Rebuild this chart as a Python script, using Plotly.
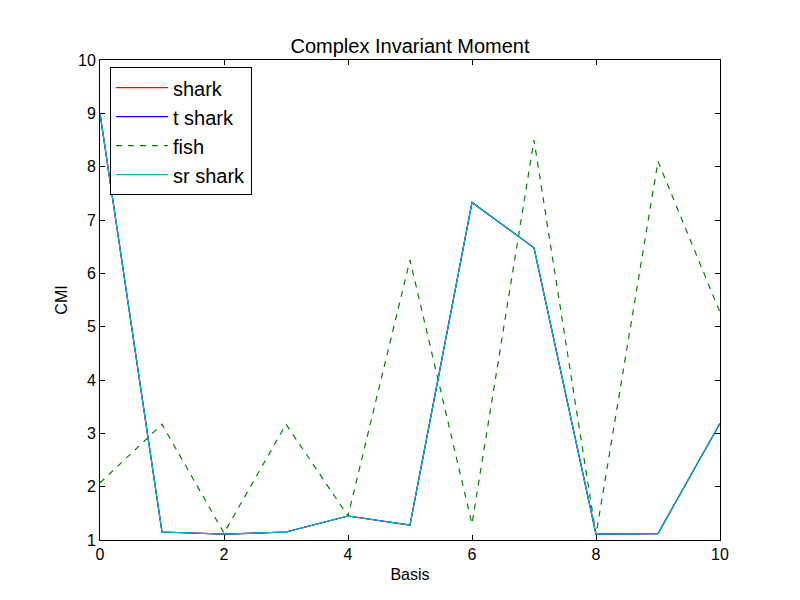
import plotly.graph_objects as go

basis = [0, 1, 2, 3, 4, 5, 6, 7, 8, 9, 10]
shark = [9.0, 1.15, 1.11, 1.15, 1.45, 1.28, 7.33, 6.48, 1.11, 1.12, 3.19]
t_shark = [9.0, 1.15, 1.11, 1.15, 1.45, 1.28, 7.33, 6.48, 1.11, 1.12, 3.19]
fish = [2.07, 3.17, 1.13, 3.17, 1.45, 6.25, 1.3, 8.5, 1.1, 8.1, 5.27]
sr_shark = [9.0, 1.15, 1.11, 1.15, 1.45, 1.28, 7.33, 6.48, 1.11, 1.12, 3.19]
ticks_x = [0, 2, 4, 6, 8, 10]
ticks_y = [1, 2, 3, 4, 5, 6, 7, 8, 9, 10]

fig = go.Figure()
fig.add_trace(go.Scatter(x=basis, y=shark, mode="lines", name="shark",
                         line=dict(color="#FF0000", width=1.2)))
fig.add_trace(go.Scatter(x=basis, y=t_shark, mode="lines", name="t shark",
                         line=dict(color="#0000FF", width=1.2)))
fig.add_trace(go.Scatter(x=basis, y=fish, mode="lines", name="fish",
                         line=dict(color="#008000", width=1.2, dash="6px,6px")))
fig.add_trace(go.Scatter(x=basis, y=sr_shark, mode="lines", name="sr shark",
                         line=dict(color="#00BFBF", width=1.2)))

font_family = "Liberation Sans, Arial, sans-serif"
axis_common = dict(showgrid=False, zeroline=False, showline=True, linecolor="black",
                   linewidth=1, mirror="allticks", ticks="inside", ticklen=5,
                   tickcolor="black", tickfont=dict(size=16, color="black", family=font_family))

fig.update_layout(
    width=800, height=600,
    margin=dict(l=100, r=80, t=60, b=60),
    paper_bgcolor="white", plot_bgcolor="white",
    font=dict(family=font_family, color="black"),
    title=dict(text="Complex Invariant Moment", x=0.5125, xanchor="center",
               y=1 - 46 / 600, yanchor="middle", yref="container",
               font=dict(size=20, color="black", family=font_family)),
    xaxis=dict(range=[0, 10], tickvals=ticks_x,
               title=dict(text="Basis", font=dict(size=16), standoff=6), **axis_common),
    yaxis=dict(range=[1, 10], tickvals=ticks_y,
               title=dict(text="CMI", font=dict(size=16), standoff=6), **axis_common),
    legend=dict(x=0.016, y=0.985, xanchor="left", yanchor="top",
                bgcolor="white", bordercolor="black", borderwidth=1,
                font=dict(size=20, color="black", family=font_family),
                itemwidth=52, tracegroupgap=0),
    showlegend=True,
)

fig.write_html("out.html")
